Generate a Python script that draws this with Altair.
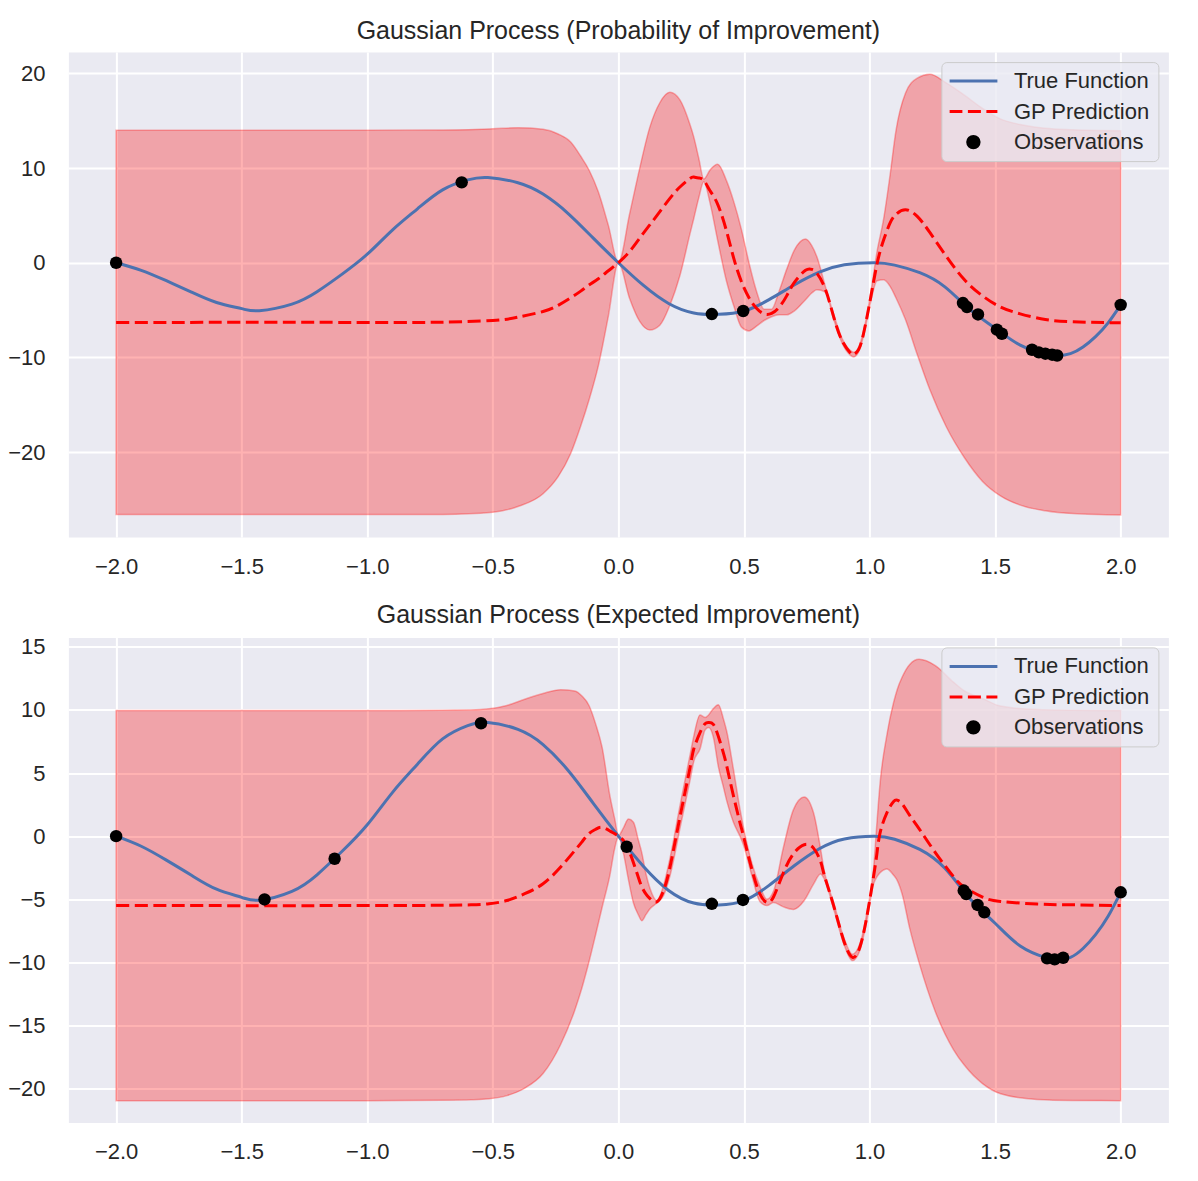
import altair as alt
import pandas as pd

FONT = "Liberation Sans"
TXT = "#262626"

# ---------------- data ----------------
X_TICKS = [-2.0, -1.5, -1.0, -0.5, 0.0, 0.5, 1.0, 1.5, 2.0]
TOP_Y_TICKS = [-20, -10, 0, 10, 20]
BOT_Y_TICKS = [-20, -15, -10, -5, 0, 5, 10, 15]

SERIES = ["True Function", "GP Prediction", "Observations"]
COLORS = ["#4c72b0", "red", "black"]

TITLE_TOP = "Gaussian Process (Probability of Improvement)"
TITLE_BOT = "Gaussian Process (Expected Improvement)"

# true function (same in both panels)
TRUE_X = [-2.0, -1.9, -1.8, -1.7, -1.6, -1.5, -1.43, -1.3, -1.2, -1.1, -1.0,
          -0.9, -0.8, -0.7, -0.6, -0.52, -0.4, -0.3, -0.2, -0.1, 0.0,
          0.1, 0.2, 0.3, 0.4, 0.5, 0.6, 0.7, 0.8, 0.9, 1.02,
          1.1, 1.2, 1.3, 1.4, 1.5, 1.6, 1.7, 1.75, 1.8, 1.85, 1.9, 1.95, 2.0]
TRUE_Y = [0.0, -0.8, -1.9, -3.1, -4.2, -4.85, -5.07, -4.37, -3.06, -1.2, 0.9,
          3.45, 5.7, 7.7, 8.75, 9.0, 8.45, 7.25, 5.2, 2.6, 0.0,
          -2.4, -4.3, -5.3, -5.45, -5.1, -3.9, -2.35, -1.0, -0.22, 0.0,
          -0.25, -1.05, -2.55, -4.95, -6.9, -8.7, -9.61, -9.8, -9.6, -8.9, -7.8, -6.35, -4.45]

# top panel: GP mean and the lower / upper edge of the band
TOP_X = [-2.0, -1.0, -0.7, -0.5, -0.4, -0.3, -0.24, -0.19, -0.15, -0.117, -0.08, -0.04, 0.0,
         0.045, 0.085, 0.125, 0.165, 0.205, 0.245, 0.285, 0.30, 0.32, 0.34, 0.365, 0.395,
         0.43, 0.46, 0.49, 0.52, 0.55, 0.58, 0.61, 0.64, 0.67, 0.70, 0.745, 0.77, 0.79,
         0.824, 0.857, 0.89, 0.923, 0.937, 0.956, 0.976, 1.003, 1.03, 1.056, 1.082, 1.105,
         1.143, 1.19, 1.24, 1.305, 1.378, 1.45, 1.52, 1.60, 1.70, 1.81, 2.0]
TOP_MEAN = [-6.30, -6.30, -6.28, -6.10, -5.75, -5.15, -4.50, -3.70, -3.00, -2.35, -1.70, -0.85, 0.0,
            1.20, 2.60, 4.00, 5.40, 6.80, 8.00, 8.90, 9.05, 8.95, 8.70, 7.60, 6.20,
            3.40, 0.40, -2.00, -3.70, -4.80, -5.40, -5.35, -4.70, -3.50, -2.10, -0.80, -0.70, -1.10,
            -2.80, -5.70, -8.20, -9.50, -9.70, -9.20, -7.50, -3.90, -0.10, 2.40, 4.20, 5.10,
            5.60, 4.90, 3.20, 0.70, -1.80, -3.50, -4.65, -5.40, -6.00, -6.24, -6.35]
TOP_LO = [-26.60, -26.60, -26.58, -26.35, -25.75, -24.40, -22.60, -20.15, -17.25, -14.50, -10.90, -5.65, 0.0,
          -3.80, -6.20, -7.10, -6.60, -4.50, -1.35, 3.05, 4.65, 6.85, 8.55, 6.30, 2.40,
          -1.90, -4.60, -6.80, -7.20, -6.70, -6.10, -5.70, -5.50, -5.50, -5.10, -3.90, -3.20, -2.85,
          -3.10, -5.95, -8.45, -9.75, -9.95, -9.45, -7.75, -4.30, -1.90, -1.80, -2.50, -3.70,
          -6.00, -9.70, -13.40, -17.30, -20.60, -23.10, -24.60, -25.60, -26.20, -26.50, -26.65]
TOP_HI = [14.00, 14.00, 14.02, 14.15, 14.25, 14.10, 13.60, 12.75, 11.25, 9.80, 7.50, 3.95, 0.0,
          5.20, 10.00, 14.30, 16.90, 18.00, 17.20, 14.60, 13.30, 11.05, 8.85, 9.80, 10.40,
          8.70, 6.40, 3.50, 0.00, -3.00, -4.90, -4.90, -3.00, -0.70, 1.30, 2.50, 1.80, 0.65,
          -2.50, -5.45, -7.95, -9.25, -9.45, -8.95, -7.25, -3.50, 1.20, 4.60, 9.30, 13.90,
          17.90, 19.50, 19.90, 19.00, 17.70, 16.30, 15.20, 14.60, 14.20, 14.05, 13.95]

OBS_TOP_X = [-2.0, -0.624, 0.372, 0.497, 1.372, 1.388, 1.432, 1.507, 1.527,
             1.647, 1.674, 1.700, 1.727, 1.747, 2.0]
OBS_TOP_Y = [0.0, 8.49, -5.42, -5.1, -4.26, -4.68, -5.46, -7.07, -7.5,
             -9.19, -9.47, -9.61, -9.71, -9.8, -4.45]

# bottom panel
BOT_X = [-2.0, -1.0, -0.7, -0.587, -0.515, -0.444, -0.373, -0.30, -0.23, -0.174, -0.145, -0.117,
         -0.09, -0.065, -0.033, -0.015, 0.0, 0.02, 0.04, 0.06, 0.08, 0.093, 0.11, 0.126, 0.153,
         0.18, 0.206, 0.246, 0.286, 0.30, 0.325, 0.345, 0.359, 0.378, 0.398, 0.418, 0.432,
         0.458, 0.485, 0.498, 0.531, 0.564, 0.591, 0.618, 0.657, 0.697, 0.74, 0.777, 0.805,
         0.82, 0.857, 0.896, 0.932, 0.963, 0.99, 1.016, 1.03, 1.042, 1.069, 1.096, 1.11, 1.13,
         1.16, 1.197, 1.262, 1.334, 1.378, 1.45, 1.522, 1.667, 1.81, 2.0]
BOT_MEAN = [-5.50, -5.50, -5.47, -5.44, -5.36, -5.10, -4.56, -3.77, -2.45, -1.15, -0.45, 0.20,
            0.55, 0.70, 0.40, 0.20, 0.0, -0.35, -1.05, -2.10, -3.30, -4.00, -4.60, -4.95, -5.20,
            -4.30, -2.40, 1.60, 5.50, 6.90, 8.20, 8.90, 9.00, 8.85, 7.90, 6.60, 5.50,
            3.20, 1.00, 0.00, -2.60, -4.60, -5.25, -4.80, -2.90, -1.40, -0.68, -0.95, -2.00,
            -3.10, -5.50, -8.20, -9.60, -8.70, -6.30, -3.20, -1.30, 0.26, 1.85, 2.75, 2.85, 2.55,
            1.64, 0.60, -1.30, -3.20, -4.04, -4.83, -5.17, -5.38, -5.44, -5.50]
BOT_LO = [-20.95, -20.95, -20.92, -20.88, -20.80, -20.55, -19.96, -18.80, -16.50, -13.80, -12.00, -9.95,
          -7.75, -5.65, -3.00, -1.00, -0.05, -1.35, -3.45, -5.30, -6.25, -6.70, -6.20, -5.75, -5.30,
          -4.70, -3.10, 0.70, 4.50, 5.90, 6.90, 8.40, 8.60, 7.85, 5.50, 3.90, 2.75,
          1.10, -0.05, -0.70, -3.10, -5.20, -5.50, -5.25, -5.60, -5.80, -5.10, -3.80, -3.00,
          -3.40, -5.75, -8.45, -9.85, -8.95, -6.60, -3.80, -3.20, -2.90, -2.60, -3.10, -3.50, -4.60,
          -7.30, -10.00, -13.90, -16.90, -18.15, -19.60, -20.40, -20.85, -20.93, -20.95]
BOT_HI = [9.95, 9.95, 9.98, 10.00, 10.08, 10.35, 10.84, 11.30, 11.60, 11.50, 11.10, 10.35,
          8.85, 7.05, 3.10, 1.40, 0.05, 0.65, 1.35, 1.10, -0.35, -1.30, -3.00, -4.15, -5.10,
          -3.90, -1.70, 2.50, 6.50, 7.90, 9.60, 9.40, 9.60, 10.10, 10.40, 9.30, 8.25,
          5.30, 2.05, 0.70, -2.10, -4.00, -5.00, -4.35, -0.90, 2.10, 3.10, 1.85, -1.00,
          -2.80, -5.25, -7.95, -9.35, -8.45, -6.00, -2.60, 1.20, 4.20, 8.00, 10.60, 11.60, 12.60,
          13.60, 14.00, 13.50, 12.20, 11.50, 10.90, 10.30, 10.02, 9.97, 9.95]

OBS_BOT_X = [-2.0, -1.409, -1.13, -0.547, 0.033, 0.372, 0.496, 1.375, 1.385, 1.43, 1.457,
             1.707, 1.737, 1.771, 2.0]
OBS_BOT_Y = [0.0, -5.01, -1.79, 8.94, -0.84, -5.36, -5.05, -4.31, -4.58, -5.45, -6.03,
             -9.68, -9.76, -9.63, -4.45]

X_DOMAIN = [-2.19, 2.19]
TOP_Y_DOMAIN = [-28.98, 22.25]
BOT_Y_DOMAIN = [-22.67, 15.74]

# ---------------- chart ----------------
MINUS = "\u2212"
X_LABEL = "replace(format(datum.value, '.1f'), '-', '" + MINUS + "')"
Y_LABEL = "replace(format(datum.value, 'd'), '-', '" + MINUS + "')"

CIRCLE_PATH = "M-0.2375,0A0.2375,0.2375,0,1,0,0.2375,0A0.2375,0.2375,0,1,0,-0.2375,0Z"

legend = alt.Legend(
    title=None,
    orient="top-right",
    offset=10,
    padding=8,
    rowPadding=8.5,
    clipHeight=22,
    symbolType=alt.ExprRef(expr="datum.value === 'Observations' ? '" + CIRCLE_PATH + "' : 'stroke'"),
    symbolSize=2304,
    symbolStrokeWidth=3,
    symbolOpacity=1,
    symbolDash=alt.ExprRef(expr="datum.value === 'GP Prediction' ? [13, 5.5] : []"),
    symbolOffset=-1.5,
    labelOffset=15,
    labelFont=FONT,
    labelFontSize=22,
    labelColor=TXT,
    fillColor="rgba(234,234,242,0.8)",
    strokeColor="#cccccc",
    cornerRadius=5,
)

color_enc = alt.Color("series:N", scale=alt.Scale(domain=SERIES, range=COLORS), legend=legend)


def x_enc():
    return alt.X(
        "x:Q",
        scale=alt.Scale(domain=X_DOMAIN, nice=False, zero=False),
        axis=alt.Axis(values=X_TICKS, labelExpr=X_LABEL, title=None, labelPadding=19.5,
                      labelFlush=False, labelOverlap=False),
    )


def y_enc(field, ticks, domain):
    return alt.Y(
        field,
        scale=alt.Scale(domain=domain, nice=False, zero=False),
        axis=alt.Axis(values=ticks, labelExpr=Y_LABEL, title=None, labelPadding=23.4,
                      labelOverlap=False),
    )


def panel(gx, gmean, glo, ghi, ox, oy, yticks, ydomain, title):
    band = pd.DataFrame({"x": gx, "lo": glo, "hi": ghi})
    true_df = pd.DataFrame({"x": TRUE_X, "y": TRUE_Y, "series": SERIES[0]})
    mean_df = pd.DataFrame({"x": gx, "y": gmean, "series": SERIES[1]})
    obs_df = pd.DataFrame({"x": ox, "y": oy, "series": SERIES[2]})

    area = alt.Chart(band).mark_area(
        fill="red", fillOpacity=0.3, stroke="red", strokeOpacity=0.3, strokeWidth=1.5,
        interpolate="monotone",
    ).encode(x=x_enc(), y=y_enc("lo:Q", yticks, ydomain), y2="hi:Q")

    true_line = alt.Chart(true_df).mark_line(strokeWidth=3, interpolate="natural").encode(
        x=x_enc(), y=y_enc("y:Q", yticks, ydomain), color=color_enc)

    mean_line = alt.Chart(mean_df).mark_line(
        strokeWidth=3, strokeDash=[13, 5.5], interpolate="natural"
    ).encode(x=x_enc(), y=y_enc("y:Q", yticks, ydomain), color=color_enc)

    pts = alt.Chart(obs_df).mark_circle(size=155, opacity=1).encode(
        x=x_enc(), y=y_enc("y:Q", yticks, ydomain), color=color_enc)

    return alt.layer(area, true_line, mean_line, pts).properties(
        width=1100, height=485, title=alt.TitleParams(title))


top = panel(TOP_X, TOP_MEAN, TOP_LO, TOP_HI, OBS_TOP_X, OBS_TOP_Y, TOP_Y_TICKS, TOP_Y_DOMAIN, TITLE_TOP)
bot = panel(BOT_X, BOT_MEAN, BOT_LO, BOT_HI, OBS_BOT_X, OBS_BOT_Y, BOT_Y_TICKS, BOT_Y_DOMAIN, TITLE_BOT)

chart = (
    alt.vconcat(top, bot, spacing=23.3)
    .resolve_scale(color="independent")
    .resolve_legend(color="independent")
    .properties(padding={"left": -1.6, "top": 10.1, "right": 5, "bottom": 5})
    .configure_view(fill="#EAEAF2", stroke="transparent")
    .configure_axis(
        grid=True, gridColor="white", gridWidth=2, gridOpacity=1,
        domain=False, ticks=False,
        labelFont=FONT, labelFontSize=22, labelColor=TXT,
    )
    .configure_title(
        font=FONT, fontSize=25, fontWeight="normal", color=TXT,
        anchor="middle", frame="group", offset=8, baseline="alphabetic",
    )
)

chart.save("out.html", embed_options={"renderer": "svg", "actions": False})
